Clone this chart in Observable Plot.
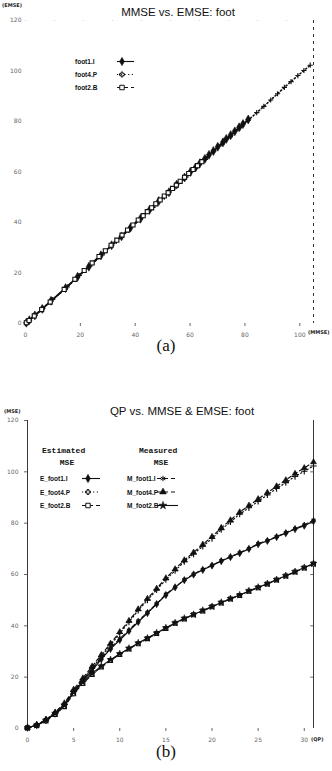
<!DOCTYPE html>
<html>
<head>
<meta charset="utf-8">
<script src="https://cdn.jsdelivr.net/npm/d3@7"></script>
<script src="https://cdn.jsdelivr.net/npm/@observablehq/plot@0.6"></script>
<style>
  html, body { margin: 0; padding: 0; background: #fff; }
  #wrap { position: relative; width: 332px; height: 771px; overflow: hidden; background: #fff; }
  .abs { position: absolute; white-space: nowrap; line-height: 1; color: #111; }
  .title { font-family: "Liberation Sans", Arial, sans-serif; font-size: 11.5px; transform: translateX(-50%); }
  .unit { font-family: "DejaVu Sans", sans-serif; font-size: 5px; font-weight: bold; color: #222; }
  .cap { font-family: "Liberation Serif", "Times New Roman", serif; font-size: 17px; transform: translateX(-50%); }
</style>
</head>
<body>
<div id="wrap">
  <div id="panelA" class="abs" style="left:0;top:0"></div>
  <div id="panelB" class="abs" style="left:0;top:400px"></div>
  <div class="abs title" style="left:178px;top:7px">MMSE vs. EMSE: foot</div>
  <div class="abs unit" style="left:2px;top:3px">(EMSE)</div>
  <div class="abs unit" style="left:308px;top:330px">(MMSE)</div>
  <div class="abs cap" style="left:166px;top:337px">(a)</div>
  <div class="abs title" style="left:182px;top:406px">QP vs. MMSE &amp; EMSE: foot</div>
  <div class="abs unit" style="left:4px;top:409px">(MSE)</div>
  <div class="abs unit" style="left:311px;top:737px">(QP)</div>
  <div class="abs cap" style="left:166px;top:743px">(b)</div>
  <svg id="legend" class="abs" style="left:0;top:0" width="332" height="771"></svg>
</div>
<script>
// ---- data ----
const QP = [0,1,2,3,4,5,6,7,8,9,10,11,12,13,14,15,16,17,18,19,20,21,22,23,24,25,26,27,28,29,30,31];

const E_foot1I = [0.3,1.3,3.2,5.8,9.0,14.0,18.5,22.5,27.0,31.0,34.5,38.0,41.5,45.0,48.5,52.0,55.0,57.8,60.0,61.8,63.5,65.2,66.8,68.3,70.0,71.8,73.1,74.6,76.1,77.7,79.0,80.8];
const M_foot1I = [0.3,1.4,3.4,6.1,9.3,14.6,19.0,23.1,27.5,31.4,35.0,38.3,41.9,45.2,48.6,52.3,55.1,58.0,60.1,62.0,63.6,65.4,66.9,68.5,70.1,72.0,73.2,74.8,76.3,77.9,79.3,81.2];
const E_foot4P = [0.3,1.3,3.3,6.0,9.5,14.5,19.0,23.5,28.0,32.5,37.0,41.5,46.0,50.0,54.0,58.0,61.5,65.0,68.0,71.0,74.0,77.5,80.5,83.5,86.0,88.5,91.0,93.5,95.8,98.2,100.2,102.3];
const M_foot4P = [0.3,1.4,3.5,6.3,9.9,15.2,19.6,24.2,28.7,33.1,37.6,42.0,46.5,50.6,54.5,58.6,62.1,65.6,68.6,71.7,74.7,78.2,81.2,84.3,86.9,89.4,91.9,94.4,96.8,99.3,101.5,103.8];
const E_foot2B = [0.3,1.2,3.0,5.5,8.5,13.5,17.5,21.0,24.0,26.5,28.8,31.0,33.0,35.0,37.0,39.0,41.0,42.7,44.3,45.8,47.4,48.9,50.5,51.8,53.5,54.8,56.3,57.9,59.4,61.0,62.5,64.1];
const M_foot2B = [0.3,1.3,3.2,5.9,9.0,14.1,18.0,21.4,24.3,26.8,29.1,31.2,33.3,35.2,37.2,39.2,41.1,42.9,44.4,46.0,47.5,49.1,50.6,52.0,53.6,55.0,56.4,58.0,59.5,61.1,62.7,64.3];

const xTicksA = [0,20,40,60,80,100];
const yTicksA = [0,20,40,60,80,100,120];
const xTicksB = [0,5,10,15,20,25,30];
const yTicksB = [0,20,40,60,80,100,120];

const seriesA = ["foot1.I","foot4.P","foot2.B"];
const seriesE = ["E_foot1.I","E_foot4.P","E_foot2.B"];
const seriesM = ["M_foot1.I","M_foot4.P","M_foot2.B"];

// ---- styles ----
const styleA = {
  "foot1.I": {dash: null, symbol: "diamond", filled: true, r: 2.7},
  "foot4.P": {dash: "1.2,2.5", symbol: "plus", filled: false, r: 1.8},
  "foot2.B": {dash: "4,3", symbol: "square", filled: false, r: 2.3}
};
const styleB = {
  "E_foot1.I": {dash: null, symbol: "diamond", filled: true, r: 2.2},
  "E_foot4.P": {dash: "1.2,2.5", symbol: "plus", filled: false, r: 2.2},
  "E_foot2.B": {dash: "4,3", symbol: "square", filled: false, r: 2.2},
  "M_foot1.I": {dash: "4,3", symbol: "asterisk", filled: false, r: 2.2},
  "M_foot4.P": {dash: "4,3", symbol: "triangle", filled: true, r: 2.2},
  "M_foot2.B": {dash: null, symbol: "star", filled: true, r: 2.2}
};

// ---- tables ----
const pairs = [[E_foot1I, M_foot1I],[E_foot4P, M_foot4P],[E_foot2B, M_foot2B]];
const tableA = seriesA.map((s, i) => QP.map((q, j) => ({series: s, m: pairs[i][1][j], e: pairs[i][0][j]})));
const tableB = [];
seriesE.forEach((s, i) => tableB.push(QP.map((q, j) => ({series: s, qp: q, v: pairs[i][0][j]}))));
seriesM.forEach((s, i) => tableB.push(QP.map((q, j) => ({series: s, qp: q, v: pairs[i][1][j]}))));

function seriesMarks(rows, st, xk, yk, sw) {
  const out = [];
  out.push(Plot.line(rows, {x: xk, y: yk, stroke: "#111", strokeWidth: sw, strokeDasharray: st.dash || undefined}));
  out.push(Plot.dot(rows, {x: xk, y: yk, symbol: st.symbol, r: st.r,
    fill: st.filled ? "#111" : (st.symbol === "square" ? "white" : "none"),
    stroke: "#111", strokeWidth: st.filled ? 0.6 : 1.1}));
  return out;
}

const tickStyle = {fontSize: "6px", fontFamily: "DejaVu Sans, sans-serif", color: "#666", background: "transparent"};

// ---- panel (a) ----
const marksA = [
  Plot.ruleX([105], {stroke: "#333", strokeWidth: 1, strokeDasharray: "3,4"}),
  Plot.ruleY([120], {stroke: "#bbb", strokeWidth: 0.6, strokeDasharray: "1,28"})
];
seriesA.forEach((s, i) => marksA.push(...seriesMarks(tableA[i], styleA[s], "m", "e", 1.6)));
const plotA = Plot.plot({
  width: 332, height: 342,
  marginTop: 20, marginBottom: 19, marginLeft: 25, marginRight: 19,
  style: tickStyle,
  x: {type: "linear", domain: [0, 105], ticks: xTicksA, tickSize: 3, label: null},
  y: {type: "linear", domain: [0, 120], ticks: yTicksA, tickSize: 0, tickPadding: 4, label: null},
  marks: marksA
});
document.getElementById("panelA").appendChild(plotA);

// ---- panel (b) ----
const marksB = [
  Plot.ruleX([0], {stroke: "#222", strokeWidth: 0.9}),
  Plot.ruleX([31], {stroke: "#222", strokeWidth: 0.9}),
  Plot.ruleY(yTicksB.slice(1, 6), {x1: 30.7, x2: 31, stroke: "#444", strokeWidth: 0.8})
];
[...seriesE, ...seriesM].forEach((s, i) => marksB.push(...seriesMarks(tableB[i], styleB[s], "qp", "v", 1.2)));
const plotB = Plot.plot({
  width: 332, height: 350,
  marginTop: 20, marginBottom: 22, marginLeft: 27, marginRight: 19,
  style: tickStyle,
  x: {type: "linear", domain: [0, 31], ticks: xTicksB, tickSize: 3, label: null},
  y: {type: "linear", domain: [0, 120], ticks: yTicksB, tickSize: 3, tickPadding: 6, label: null},
  marks: marksB
});
document.getElementById("panelB").appendChild(plotB);

// ---- legends (drawn with d3) ----
const L = d3.select("#legend");
const symMap = {diamond: d3.symbolDiamond, plus: d3.symbolCross, square: d3.symbolSquare,
  asterisk: d3.symbolAsterisk, triangle: d3.symbolTriangle, star: d3.symbolStar};
function legendRow(x, y, label, st, lx0, lx1, mx, font) {
  L.append("text").attr("x", x).attr("y", y).text(label)
    .attr("font-family", "Liberation Sans, Arial, sans-serif").attr("font-size", font)
    .attr("font-weight", "bold").attr("fill", "#111");
  L.append("line").attr("x1", lx0).attr("x2", lx1).attr("y1", y - 2.5).attr("y2", y - 2.5)
    .attr("stroke", "#111").attr("stroke-width", 1.1).attr("stroke-dasharray", st.dash || null);
  const isStroke = ["plus", "asterisk"].includes(st.symbol);
  const size = st.symbol === "plus" ? 14 : 20;
  L.append("path").attr("d", d3.symbol(symMap[st.symbol], size)())
    .attr("transform", `translate(${mx},${y - 2.5})`)
    .attr("fill", st.filled ? "#111" : (isStroke ? "none" : "white"))
    .attr("stroke", "#111").attr("stroke-width", st.filled ? 0.5 : 1);
}
seriesA.forEach((s, i) => legendRow(75, 64 + i * 13, s, styleA[s], 117, 134, 122, "6.5px"));

const hdr = (x, y, t, anchor) => L.append("text").attr("x", x).attr("y", y).text(t)
  .attr("font-family", "Liberation Mono, Courier New, monospace").attr("font-size", "8px")
  .attr("font-weight", "bold").attr("fill", "#111").attr("text-anchor", anchor || "start");
hdr(42, 453, "Estimated"); hdr(67, 465, "MSE", "middle");
hdr(139, 453, "Measured"); hdr(161, 465, "MSE", "middle");
seriesE.forEach((s, i) => legendRow(40, 481 + i * 13.5, s, styleB[s], 82, 100, 88, "6.5px"));
seriesM.forEach((s, i) => legendRow(127, 481 + i * 13.5, s, styleB[s], 157, 178, 163, "6.5px"));
</script>
</body>
</html>
